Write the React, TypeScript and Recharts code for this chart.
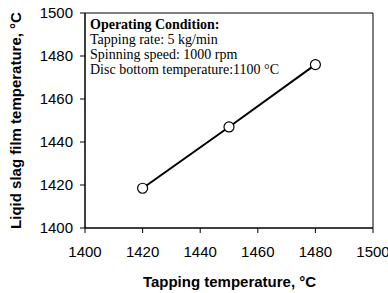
import { LineChart, Line, XAxis, YAxis, ReferenceArea, Customized } from 'recharts';

const tappingTemp = [1420, 1450, 1480];
const filmTemp = [1418.5, 1447, 1476];
const xTicks = [1400, 1420, 1440, 1460, 1480, 1500];
const yTicks = [1400, 1420, 1440, 1460, 1480, 1500];
const conditionLines = [
  'Tapping rate: 5 kg/min',
  'Spinning speed: 1000 rpm',
  'Disc bottom temperature:1100 °C',
];

const data = tappingTemp.map((t, i) => ({ x: t, y: filmTemp[i] }));

const sans = '"Liberation Sans", Arial, sans-serif';
const serif = '"Liberation Serif", "Times New Roman", serif';

function Overlay() {
  return (
    <g>
      {/* operating condition box text */}
      <text x={90} y={29} fontFamily={serif} fontSize={14} fontWeight="bold" fill="#000">
        Operating Condition:
      </text>
      {conditionLines.map((s, i) => (
        <text key={s} x={90} y={44 + i * 15} fontFamily={serif} fontSize={14} fill="#000">
          {s}
        </text>
      ))}
      {/* axis titles */}
      <text x={229.5} y={287} textAnchor="middle" fontFamily={sans} fontSize={15} fontWeight="bold" fill="#000">
        Tapping temperature, °C
      </text>
      <text
        x={21}
        y={120.5}
        transform="rotate(-90 21 120.5)"
        textAnchor="middle"
        fontFamily={sans}
        fontSize={15}
        fontWeight="bold"
        fill="#000"
      >
        Liqid slag film temperature, °C
      </text>
    </g>
  );
}

export default function App() {
  return (
    <div style={{ position: 'fixed', left: 0, top: 0, width: 388, height: 293, background: '#fff' }}>
      <LineChart width={388} height={293} data={data} margin={{ top: 13, right: 15, left: 0, bottom: 0 }}>
        <XAxis
          dataKey="x"
          type="number"
          domain={[1400, 1500]}
          ticks={xTicks}
          height={65}
          stroke="#000"
          tickSize={5}
          tickMargin={13}
          tick={{ fill: '#000', fontSize: 15, fontFamily: sans }}
          interval={0}
        />
        <YAxis
          type="number"
          domain={[1400, 1500]}
          ticks={yTicks}
          width={85}
          stroke="#000"
          tickSize={5}
          tickMargin={7}
          tick={{ fill: '#000', fontSize: 15, fontFamily: sans }}
          interval={0}
        />
        <ReferenceArea x1={1400} x2={1500} y1={1400} y2={1500} fill="none" stroke="#000" strokeWidth={1} />
        <Line
          dataKey="y"
          stroke="#000"
          strokeWidth={2}
          dot={{ r: 5, fill: '#fff', stroke: '#000', strokeWidth: 1.2 }}
          isAnimationActive={false}
        />
        <Customized component={Overlay} />
      </LineChart>
    </div>
  );
}
